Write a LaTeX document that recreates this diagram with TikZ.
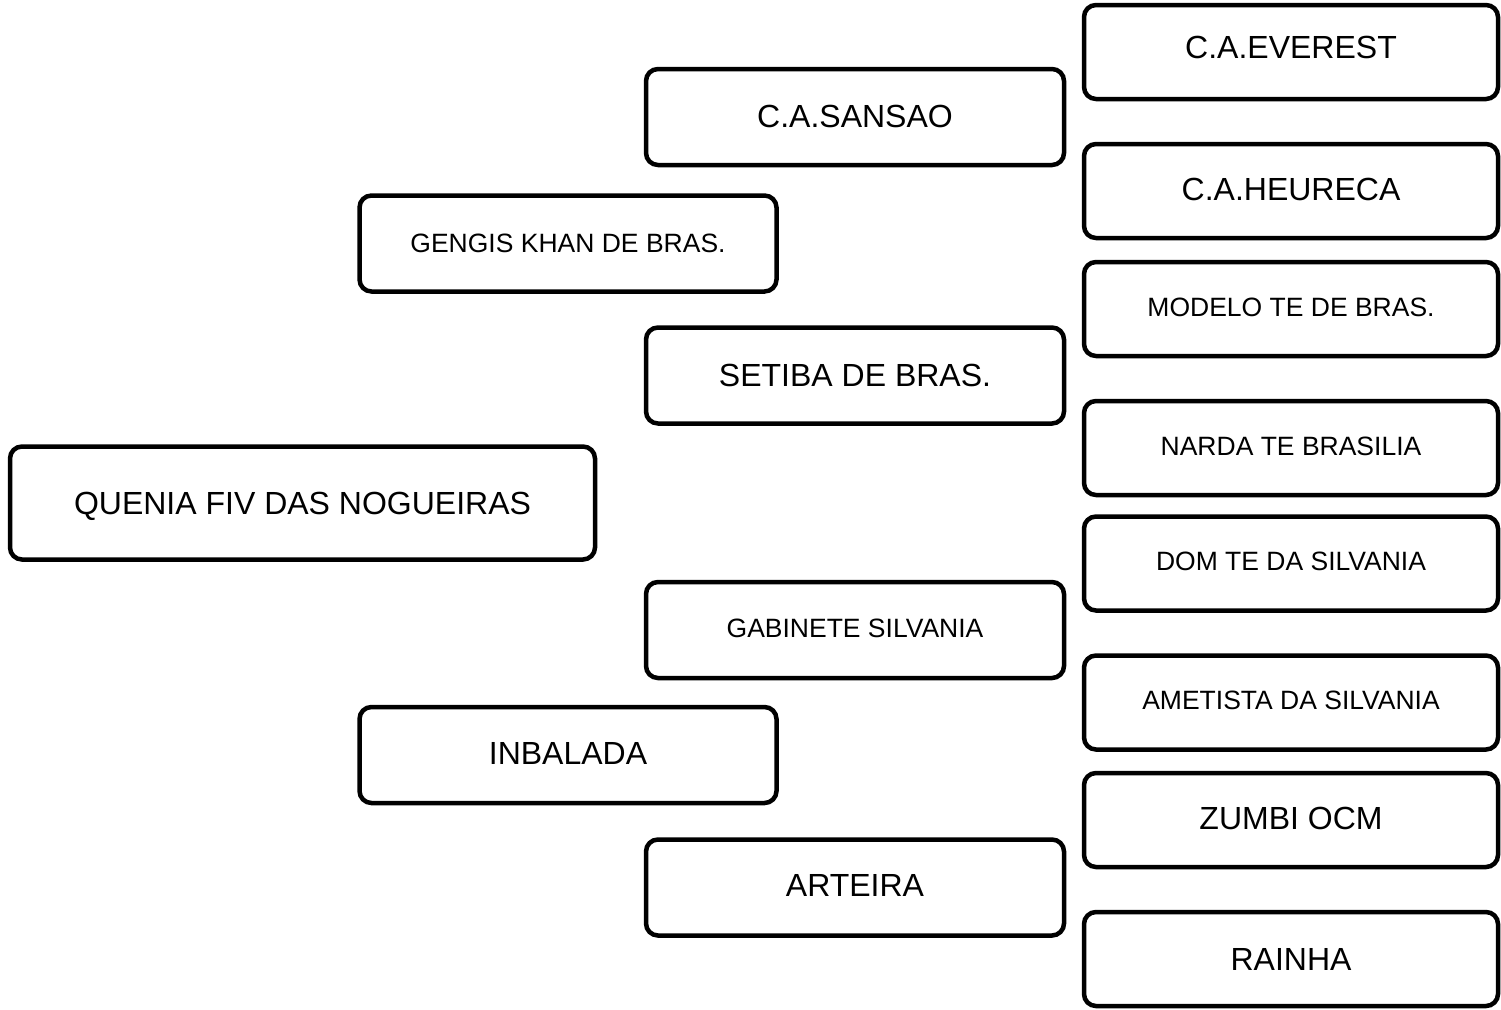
\documentclass[tikz,border=0pt]{standalone}
\usepackage{fontspec}
\setmainfont{Liberation Sans}
\begin{document}
\begin{tikzpicture}[x=1pt,y=-1pt,
  pbox/.style={draw=black, line width=4.5pt, rounded corners=12pt, fill=white,
    inner sep=0pt, text depth=4pt, align=center},
  big/.style={font=\fontsize{32}{36}\selectfont},
  small/.style={font=\fontsize{26.5}{30}\selectfont},
  rcol/.style={pbox, minimum width=414pt, minimum height=94pt},
  mcol/.style={pbox, minimum width=418pt, minimum height=96pt},
  lcol/.style={pbox, minimum width=417pt, minimum height=96pt}]
\fill[white] (0,0) rectangle (1501,1009);
\useasboundingbox (0,0) rectangle (1501,1009);
% right column
\node[rcol, big, text depth=10pt] (everest)  at (1291,52)    {C.A.EVEREST};
\node[rcol, big]   (heureca)  at (1291,191)   {C.A.HEURECA};
\node[rcol, small] (modelo)   at (1291,309)   {MODELO TE DE BRAS.};
\node[rcol, small] (narda)    at (1291,448)   {NARDA TE BRASILIA};
\node[rcol, small] (dom)      at (1291,563.5) {DOM TE DA SILVANIA};
\node[rcol, small] (ametista) at (1291,702.5) {AMETISTA DA SILVANIA};
\node[rcol, big]   (zumbi)    at (1291,820)   {ZUMBI OCM};
\node[rcol, big, text depth=0pt] (rainha)   at (1291,959)   {RAINHA};
% middle column
\node[mcol, big, text depth=2pt]   (sansao)   at (855,117)    {C.A.SANSAO};
\node[mcol, big, text depth=0pt]   (setiba)   at (855,375.5)  {SETIBA DE BRAS.};
\node[mcol, small] (gabinete) at (855,630)    {GABINETE SILVANIA};
\node[mcol, big]   (arteira)  at (855,887.5)  {ARTEIRA};
% left-middle column
\node[lcol, small, text depth=0pt] (gengis)   at (568,243.5)  {GENGIS KHAN DE BRAS.};
\node[lcol, big]   (inbalada) at (568,755)    {INBALADA};
% subject
\node[pbox, big, text depth=0pt, minimum width=585pt, minimum height=113pt] (quenia) at (302.5,503) {QUENIA FIV DAS NOGUEIRAS};
\end{tikzpicture}
\end{document}
